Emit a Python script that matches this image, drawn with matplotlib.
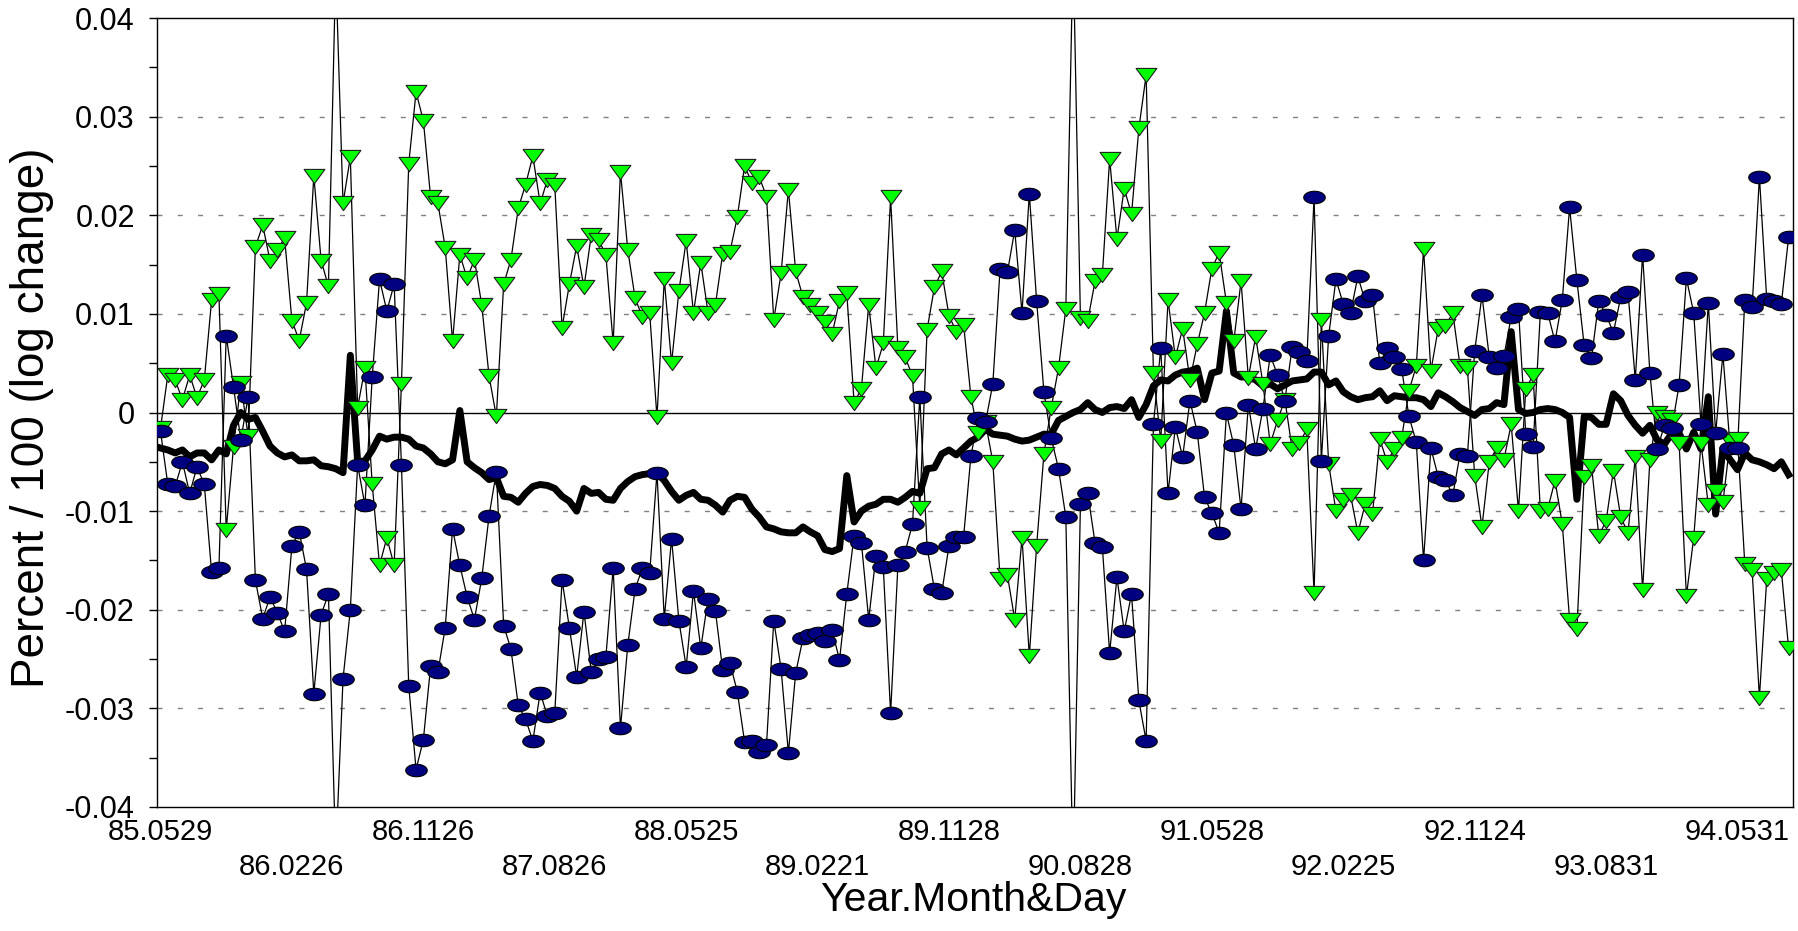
import numpy as np
import matplotlib
matplotlib.use("Agg")
import matplotlib.pyplot as plt
from matplotlib.path import Path
from matplotlib.ticker import MultipleLocator

plt.rcParams['font.family'] = ['Liberation Sans', 'DejaVu Sans']
plt.rcParams['axes.unicode_minus'] = False

# === Data ===
tick_labels = ["85.0529", "86.0226", "86.1126", "87.0826", "88.0525", "89.0221", "89.1128",
               "90.0828", "91.0528", "92.0225", "92.1124", "93.0831", "94.0531"]
points_per_tick = 18

green = [
    -0.0016, 0.0038, 0.0033, 0.0013, 0.0038, 0.0015, 0.0033, 0.0114, 0.0120, -0.0119,
    -0.0035, 0.0030, -0.0024, 0.0168, 0.0190, 0.0154, 0.0165, 0.0177, 0.0093, 0.0073,
    0.0111, 0.0240, 0.0154, 0.0128, 0.0450, 0.0212, 0.0259, 0.0005, 0.0045, -0.0073,
    -0.0155, -0.0127, -0.0155, 0.0029, 0.0252, 0.0325, 0.0296, 0.0218, 0.0212, 0.0167,
    0.0072, 0.0160, 0.0136, 0.0155, 0.0109, 0.0037, -0.0004, 0.0130, 0.0155, 0.0207,
    0.0231, 0.0260, 0.0212, 0.0236, 0.0231, 0.0086, 0.0130, 0.0169, 0.0127, 0.0180,
    0.0175, 0.0160, 0.0070, 0.0244, 0.0165, 0.0116, 0.0097, 0.0101, -0.0005, 0.0135,
    0.0050, 0.0123, 0.0174, 0.0101, 0.0152, 0.0101, 0.0109, 0.0161, 0.0163, 0.0198,
    0.0250, 0.0233, 0.0239, 0.0219, 0.0094, 0.0141, 0.0226, 0.0143, 0.0117, 0.0109,
    0.0101, 0.0092, 0.0080, 0.0113, 0.0121, 0.0010, 0.0024, 0.0109, 0.0045, 0.0070,
    0.0218, 0.0065, 0.0056, 0.0037, -0.0097, 0.0084, 0.0127, 0.0143, 0.0098, 0.0082,
    0.0089, 0.0016, -0.0021, -0.0010, -0.0050, -0.0169, -0.0165, -0.0210, -0.0127, -0.0247,
    -0.0135, -0.0042, 0.0005, 0.0045, 0.0105, 0.0470, 0.0096, 0.0093, 0.0133, 0.0139,
    0.0257, 0.0176, 0.0227, 0.0201, 0.0288, 0.0342, 0.0040, -0.0029, 0.0114, 0.0056,
    0.0085, 0.0033, 0.0069, 0.0101, 0.0146, 0.0162, 0.0111, 0.0072, 0.0133, 0.0035,
    0.0077, 0.0029, -0.0032, -0.0008, 0.0013, -0.0037, -0.0031, -0.0017, -0.0183, 0.0094,
    -0.0052, -0.0100, -0.0089, -0.0084, -0.0122, -0.0093, -0.0103, -0.0027, -0.0050, -0.0037,
    -0.0026, 0.0022, 0.0047, 0.0166, 0.0042, 0.0085, 0.0088, 0.0101, 0.0047, 0.0045,
    -0.0064, -0.0116, -0.0050, -0.0036, -0.0048, -0.0012, -0.0100, 0.0024, 0.0038, -0.0100,
    -0.0098, -0.0069, -0.0113, -0.0210, -0.0220, -0.0065, -0.0054, -0.0125, -0.0110, -0.0059,
    -0.0106, -0.0122, -0.0045, -0.0180, -0.0048, 0.0000, -0.0005, -0.0008, -0.0031, -0.0186,
    -0.0127, -0.0031, -0.0094, -0.0080, -0.0091, -0.0029, -0.0027, -0.0154, -0.0160, -0.0289,
    -0.0169, -0.0163, -0.0160, -0.0239,
]

blue = [
    -0.0019, -0.0073, -0.0075, -0.0050, -0.0082, -0.0055, -0.0073, -0.0162, -0.0158, 0.0078,
    0.0026, -0.0028, 0.0016, -0.0170, -0.0209, -0.0187, -0.0203, -0.0222, -0.0135, -0.0121,
    -0.0159, -0.0285, -0.0205, -0.0184, -0.0450, -0.0270, -0.0200, -0.0053, -0.0094, 0.0036,
    0.0135, 0.0103, 0.0130, -0.0053, -0.0277, -0.0362, -0.0332, -0.0257, -0.0263, -0.0218,
    -0.0118, -0.0155, -0.0187, -0.0210, -0.0168, -0.0105, -0.0060, -0.0216, -0.0240, -0.0297,
    -0.0311, -0.0333, -0.0284, -0.0308, -0.0305, -0.0170, -0.0218, -0.0268, -0.0202, -0.0263,
    -0.0250, -0.0248, -0.0158, -0.0320, -0.0236, -0.0179, -0.0158, -0.0163, -0.0061, -0.0209,
    -0.0128, -0.0211, -0.0258, -0.0181, -0.0239, -0.0189, -0.0201, -0.0261, -0.0254, -0.0283,
    -0.0334, -0.0333, -0.0344, -0.0337, -0.0211, -0.0260, -0.0345, -0.0264, -0.0229, -0.0226,
    -0.0224, -0.0232, -0.0221, -0.0251, -0.0184, -0.0125, -0.0132, -0.0210, -0.0145, -0.0157,
    -0.0305, -0.0155, -0.0141, -0.0113, 0.0016, -0.0137, -0.0179, -0.0183, -0.0135, -0.0126,
    -0.0126, -0.0044, -0.0006, -0.0010, 0.0029, 0.0146, 0.0142, 0.0185, 0.0101, 0.0222,
    0.0113, 0.0021, -0.0026, -0.0057, -0.0106, -0.0470, -0.0093, -0.0082, -0.0132, -0.0136,
    -0.0244, -0.0167, -0.0222, -0.0184, -0.0292, -0.0333, -0.0012, 0.0065, -0.0082, -0.0015,
    -0.0045, 0.0012, -0.0020, -0.0086, -0.0102, -0.0122, -0.0001, -0.0033, -0.0098, 0.0008,
    -0.0037, 0.0004, 0.0058, 0.0038, 0.0012, 0.0066, 0.0061, 0.0052, 0.0218, -0.0049,
    0.0078, 0.0135, 0.0110, 0.0101, 0.0138, 0.0113, 0.0119, 0.0050, 0.0065, 0.0056,
    0.0044, -0.0004, -0.0030, -0.0150, -0.0036, -0.0065, -0.0068, -0.0084, -0.0042, -0.0044,
    0.0062, 0.0119, 0.0056, 0.0045, 0.0057, 0.0097, 0.0105, -0.0022, -0.0035, 0.0102,
    0.0101, 0.0072, 0.0114, 0.0208, 0.0134, 0.0068, 0.0055, 0.0113, 0.0099, 0.0081,
    0.0117, 0.0122, 0.0033, 0.0160, 0.0040, -0.0037, -0.0013, -0.0016, 0.0028, 0.0136,
    0.0101, -0.0012, 0.0111, -0.0021, 0.0059, -0.0036, -0.0036, 0.0114, 0.0107, 0.0239,
    0.0115, 0.0113, 0.0110, 0.0178,
]

thick = [
    -0.0036, -0.0038, -0.0041, -0.0038, -0.0045, -0.0041, -0.0041, -0.0048, -0.0038, -0.0042,
    -0.0013, 0.0000, -0.0007, -0.0005, -0.0019, -0.0034, -0.0041, -0.0045, -0.0043, -0.0049,
    -0.0049, -0.0048, -0.0054, -0.0055, -0.0057, -0.0061, 0.0058, -0.0050, -0.0049, -0.0038,
    -0.0024, -0.0027, -0.0025, -0.0025, -0.0027, -0.0034, -0.0036, -0.0042, -0.0050, -0.0052,
    -0.0048, 0.0002, -0.0050, -0.0056, -0.0061, -0.0068, -0.0066, -0.0085, -0.0086, -0.0091,
    -0.0082, -0.0075, -0.0073, -0.0074, -0.0077, -0.0085, -0.0090, -0.0100, -0.0077, -0.0082,
    -0.0081, -0.0088, -0.0089, -0.0077, -0.0070, -0.0065, -0.0063, -0.0062, -0.0061, -0.0069,
    -0.0080, -0.0089, -0.0084, -0.0081, -0.0088, -0.0089, -0.0094, -0.0101, -0.0089, -0.0085,
    -0.0086, -0.0098, -0.0106, -0.0116, -0.0118, -0.0121, -0.0122, -0.0122, -0.0116, -0.0121,
    -0.0125, -0.0139, -0.0141, -0.0138, -0.0064, -0.0111, -0.0100, -0.0095, -0.0093, -0.0088,
    -0.0088, -0.0091, -0.0086, -0.0080, -0.0082, -0.0057, -0.0056, -0.0042, -0.0038, -0.0043,
    -0.0036, -0.0029, -0.0025, -0.0017, -0.0022, -0.0023, -0.0024, -0.0027, -0.0029, -0.0028,
    -0.0025, -0.0022, -0.0022, -0.0008, -0.0004, 0.0000, 0.0003, 0.0010, 0.0003, 0.0000,
    0.0005, 0.0006, 0.0004, 0.0013, -0.0005, 0.0008, 0.0027, 0.0033, 0.0032, 0.0038,
    0.0041, 0.0042, 0.0045, 0.0013, 0.0040, 0.0042, 0.0103, 0.0040, 0.0036, 0.0036,
    0.0033, 0.0027, 0.0029, 0.0024, 0.0028, 0.0032, 0.0033, 0.0034, 0.0041, 0.0041,
    0.0028, 0.0032, 0.0021, 0.0016, 0.0013, 0.0015, 0.0016, 0.0022, 0.0012, 0.0017,
    0.0016, 0.0015, 0.0015, 0.0013, 0.0006, 0.0020, 0.0016, 0.0011, 0.0005, 0.0001,
    -0.0003, 0.0003, 0.0004, 0.0010, 0.0008, 0.0082, 0.0003, -0.0001, 0.0000, 0.0003,
    0.0004, 0.0003, 0.0000, -0.0005, -0.0088, -0.0004, -0.0005, -0.0012, -0.0012, 0.0019,
    0.0012, -0.0003, -0.0013, -0.0021, -0.0013, -0.0028, -0.0032, -0.0021, -0.0021, -0.0037,
    -0.0020, -0.0037, 0.0016, -0.0103, -0.0037, -0.0048, -0.0058, -0.0041, -0.0048, -0.0050,
    -0.0053, -0.0057, -0.0050, -0.0063,
]

x = np.arange(len(green))

# === Custom markers: flat ellipse and flat down-triangle ===
t = np.linspace(0, 2 * np.pi, 61)
ellipse = Path(np.column_stack([np.cos(t), 0.58 * np.sin(t)]))
tri_down = Path([(-1, 0.68), (1, 0.68), (0, -0.68), (-1, 0.68)], closed=True)

fig = plt.figure(figsize=(17.99, 9.31), dpi=100)
ax = fig.add_axes([157 / 1799, 1 - 807 / 931, 1636 / 1799, 789 / 931])

# grid + zero line
for yv in [-0.03, -0.02, -0.01, 0.01, 0.02, 0.03]:
    ax.axhline(yv, color='#808080', lw=1.0, ls=(0, (3.6, 11)), zorder=1)
ax.axhline(0, color='black', lw=1.0, zorder=1)

ax.plot(x, thick, color='black', lw=5.0, solid_joinstyle='round', zorder=3)
ax.plot(x, green, color='black', lw=0.9, zorder=2)
ax.plot(x, green, ls='none', marker=tri_down, ms=15, mfc='#00FF00', mec='#202020',
        mew=0.8, zorder=4)
ax.plot(x, blue, color='black', lw=0.9, zorder=2)
ax.plot(x, blue, ls='none', marker=ellipse, ms=15.5, mfc='#000080', mec='black',
        mew=0.8, zorder=5)

ax.set_xlim(-0.48, 223.6)
ax.set_ylim(-0.04, 0.04)

# y axis
yt = [0.04, 0.03, 0.02, 0.01, 0, -0.01, -0.02, -0.03, -0.04]
ax.set_yticks(yt)
ax.set_yticklabels(["0.04", "0.03", "0.02", "0.01", "0", "-0.01", "-0.02", "-0.03", "-0.04"])
ax.yaxis.set_minor_locator(MultipleLocator(0.005))
ax.tick_params(axis='y', which='both', direction='out', length=6, width=1, labelsize=22, pad=10)

# x axis: two staggered rows of labels
xt = [i * points_per_tick for i in range(len(tick_labels))]
ax.set_xticks(xt)
ax.set_xticklabels([lab if k % 2 == 0 else "\n" + lab for k, lab in enumerate(tick_labels)])
ax.tick_params(axis='x', length=0, labelsize=21, pad=8)
for lbl in ax.get_xticklabels():
    lbl.set_linespacing(1.3)

for s in ax.spines.values():
    s.set_linewidth(1.0)

fig.text(973 / 1799, 1 - 900 / 931, "Year.Month&Day", ha='center', va='center', fontsize=29.5)
fig.text(32 / 1799, 1 - 418 / 931, "Percent / 100 (log change)", ha='center', va='center',
         rotation=90, fontsize=33)

fig.savefig("out.png", dpi=100)
